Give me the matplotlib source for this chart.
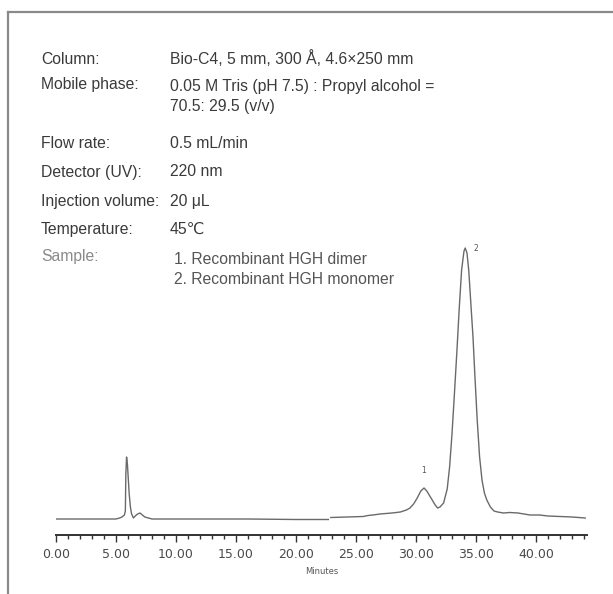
import matplotlib
matplotlib.use("Agg")
import matplotlib.pyplot as plt
from matplotlib.lines import Line2D

# chromatogram trace (minutes, signal above baseline)
t_front = [0.0, 5.0, 5.3, 5.5, 5.7, 5.78, 5.82, 5.88, 5.95, 6.0, 6.1, 6.2,
           6.3, 6.45, 6.6, 6.8, 7.0, 7.2, 7.4, 7.7, 8.0, 12.0, 16.0, 20.0, 22.7]
s_front = [0, 0, 1, 2, 4, 8, 45, 62, 55, 45, 25, 12,
           5, 1, 3, 5, 6, 4, 2, 1, 0, 0, 0, -0.5, -0.5]

t_back = [22.9, 25.6, 26.0, 26.4, 27.0, 28.0, 28.7, 29.2, 29.5, 29.8, 30.1,
          30.4, 30.67, 30.9, 31.1, 31.3, 31.6, 31.8, 32.0, 32.3, 32.6, 32.8,
          33.0, 33.2, 33.4, 33.6, 33.8, 34.0, 34.1, 34.25, 34.4, 34.6, 34.75,
          34.9, 35.1, 35.3, 35.5, 35.7, 35.9, 36.2, 36.5, 36.8, 37.3, 37.8,
          38.5, 39.5, 40.3, 41.0, 42.0, 43.0, 44.1]
s_back = [1.5, 2.5, 3.5, 4, 5, 6, 7, 9, 11, 15, 21,
          28, 31, 28, 24, 20, 14, 11, 12, 16, 30, 52,
          85, 125, 166, 210, 249, 268, 271, 266, 248, 210, 182,
          145, 99, 62, 39, 26, 19, 12, 8, 7, 6, 6.5,
          6, 4, 4, 3, 2.5, 2, 1]

peak_ids = ["1", "2"]
peak_pos = [(30.6, 44), (35.0, 266)]

xticks = [0, 5, 10, 15, 20, 25, 30, 35, 40]

conditions = [
    ("Column:", ["Bio-C4, 5 mm, 300 Å, 4.6\u00d7250 mm"]),
    ("Mobile phase:", ["0.05 M Tris (pH 7.5) : Propyl alcohol =", "70.5: 29.5 (v/v)"]),
    ("Flow rate:", ["0.5 mL/min"]),
    ("Detector (UV):", ["220 nm"]),
    ("Injection volume:", ["20 \u03bcL"]),
    ("Temperature:", ["45\u2103"]),
    ("Sample:", ["1. Recombinant HGH dimer", "2. Recombinant HGH monomer"]),
]
row_y = [59, 84, 144, 172, 201, 229, 257]

W, H = 613, 594
fig = plt.figure(figsize=(W / 100, H / 100), dpi=100)
fig.patch.set_facecolor("white")


def fx(px):
    return px / W


def fy(py):
    return 1 - py / H


# frame of the original figure (top and left edges)
fig.add_artist(Line2D([fx(8), fx(613)], [fy(12), fy(12)], color="#8a8a8a", lw=1.6))
fig.add_artist(Line2D([fx(8), fx(8)], [fy(12), fy(594)], color="#8a8a8a", lw=1.6))

font = ["Liberation Sans Narrow", "Liberation Sans", "DejaVu Sans"]
for (label, vals), y in zip(conditions, row_y):
    lab_col = "#8a8a8a" if label == "Sample:" else "#3a3a3a"
    fig.text(fx(41), fy(y), label, family=font, fontsize=11.3, color=lab_col,
             va="center", ha="left")
    vx = 174 if label == "Sample:" else 170
    dy = 2 if len(vals) > 1 else 0
    for i, v in enumerate(vals):
        fig.text(fx(vx), fy(y + dy + i * 20), v, family=font, fontsize=11.3,
                 color="#555555" if label == "Sample:" else "#3a3a3a",
                 va="center", ha="left")

ax = fig.add_axes([fx(56), fy(535), fx(587) - fx(56), fy(230) - fy(535)])
ax.plot(t_front, s_front, color="#6a6a6a", lw=1.0)
ax.plot(t_back, s_back, color="#6a6a6a", lw=1.0)
for pid, (px, py) in zip(peak_ids, peak_pos):
    ax.text(px, py, pid, fontsize=5.5, color="#555555", ha="center", va="bottom")

ax.set_xlim(0, 44.25)
ax.set_ylim(-16, 289)
for side in ["top", "right", "left"]:
    ax.spines[side].set_visible(False)
ax.spines["bottom"].set_color("#333333")
ax.spines["bottom"].set_linewidth(1.4)
ax.set_yticks([])
ax.set_xticks(xticks)
ax.set_xticklabels([f"{v:.2f}" for v in xticks])
ax.set_xticks(range(0, 45), minor=True)
ax.tick_params(axis="x", which="major", direction="out", length=5, width=1.0,
               color="#333333", labelsize=9, labelcolor="#4a4a4a", pad=4)
ax.tick_params(axis="x", which="minor", direction="out", length=3, width=1.0,
               color="#333333")
ax.set_xlabel("Minutes", fontsize=6, color="#555555", labelpad=5)
ax.patch.set_alpha(0)

fig.savefig("out.png", dpi=100)
